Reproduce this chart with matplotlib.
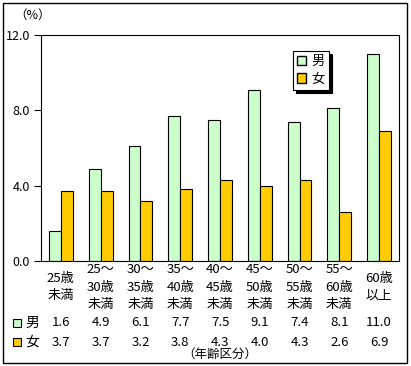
import matplotlib.pyplot as plt
import matplotlib.patches as mpatches
import numpy as np

plt.rcParams['font.family'] = ['Noto Sans CJK JP', 'DejaVu Sans']

categories = ["25歳\n未満", "25～\n30歳\n未満", "30～\n35歳\n未満", "35～\n40歳\n未満",
              "40～\n45歳\n未満", "45～\n50歳\n未満", "50～\n55歳\n未満", "55～\n60歳\n未満",
              "60歳\n以上"]
male = [1.6, 4.9, 6.1, 7.7, 7.5, 9.1, 7.4, 8.1, 11.0]
female = [3.7, 3.7, 3.2, 3.8, 4.3, 4.0, 4.3, 2.6, 6.9]
yticks = [0.0, 4.0, 8.0, 12.0]

c_male = "#ccffcc"
c_female = "#ffcc00"
W, H = 411, 366

fig = plt.figure(figsize=(W / 100, H / 100), dpi=100)

def fx(px):
    return px / W

def fy(py):
    return 1 - py / H

ax_l, ax_r, ax_t, ax_b = 41, 399, 35, 261
ax = fig.add_axes([fx(ax_l), fy(ax_b), fx(ax_r - ax_l), (ax_b - ax_t) / H])

x = np.arange(len(categories))
bw = 0.3
ax.bar(x - bw / 2, male, bw, color=c_male, edgecolor="black", linewidth=0.8)
ax.bar(x + bw / 2, female, bw, color=c_female, edgecolor="black", linewidth=0.8)
ax.set_xlim(-0.5, len(categories) - 0.5)
ax.set_ylim(0, 12)
ax.set_yticks(yticks)
ax.set_yticklabels([f"{v:.1f}" for v in yticks], fontsize=9)
ax.tick_params(axis="y", length=5, width=0.8, pad=3)
ax.set_xticks([])
for s in ax.spines.values():
    s.set_linewidth(0.8)

# legend with shadow
leg_handles = [mpatches.Patch(facecolor=c_male, edgecolor="black", label="男"),
               mpatches.Patch(facecolor=c_female, edgecolor="black", label="女")]
leg = ax.legend(handles=leg_handles, loc="upper left",
                bbox_to_anchor=((293 - ax_l) / (ax_r - ax_l), 1 - (51 - ax_t) / (ax_b - ax_t)),
                fontsize=9.5, frameon=True, fancybox=False,
                shadow={"color": "black", "alpha": 1, "ox": 2.5, "oy": -2.5},
                handlelength=0.7, handleheight=0.7, handletextpad=0.4, borderpad=0.3,
                labelspacing=0.35, borderaxespad=0)
leg.get_frame().set_edgecolor("black")
leg.get_frame().set_linewidth(0.8)

fig.text(fx(14), fy(15), "（%）", fontsize=9, ha="left", va="center")

# category labels
for i, lab in enumerate(categories):
    cx = ax_l + (i + 0.5) * (ax_r - ax_l) / len(categories)
    fig.text(fx(cx), fy(287), lab, fontsize=9.5, ha="center", va="center", linespacing=1.45)
    fig.text(fx(cx), fy(323), f"{male[i]:.1f}", fontsize=9.5, ha="center", va="center")
    fig.text(fx(cx), fy(342), f"{female[i]:.1f}", fontsize=9.5, ha="center", va="center")

# table row keys
for py, col, lab in [(323, c_male, "男"), (342, c_female, "女")]:
    fig.patches.append(mpatches.Rectangle((fx(13), fy(py + 4)), 8 / W, 8 / H, transform=fig.transFigure,
                                          facecolor=col, edgecolor="black", linewidth=0.8))
    fig.text(fx(25), fy(py), lab, fontsize=10, ha="left", va="center")

fig.text(fx(220), fy(354), "（年齢区分）", fontsize=9, ha="center", va="center")

# outer frame
fig.patches.append(mpatches.Rectangle((fx(3), fy(363)), (407 - 3) / W, (363 - 3) / H, transform=fig.transFigure,
                                      fill=False, edgecolor="black", linewidth=1))

fig.savefig("out.png", dpi=100)
